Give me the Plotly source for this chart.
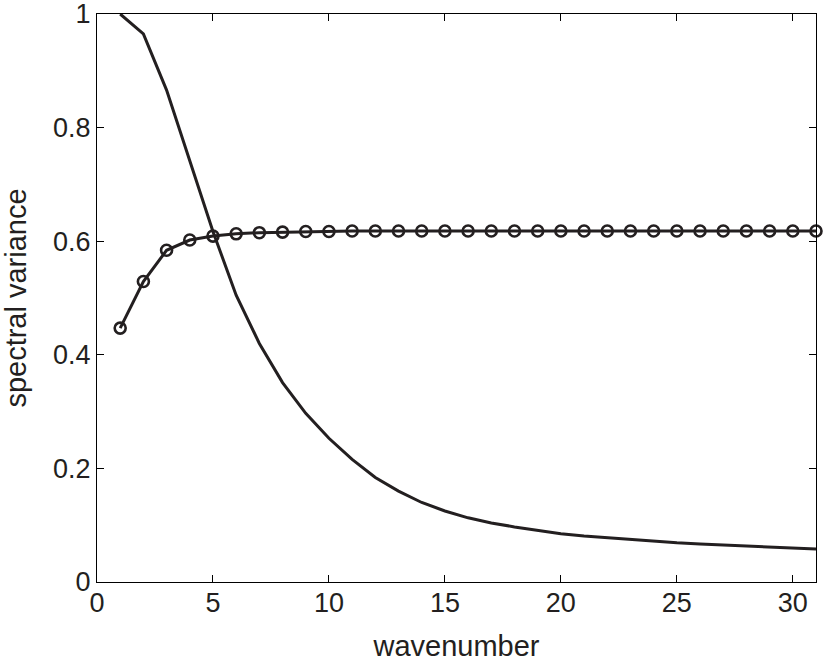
import plotly.graph_objects as go

# --- Data ---
wavenumber = list(range(1, 32))

# decaying curve (plain line)
decay = [1.000, 0.965, 0.866, 0.740, 0.617, 0.505, 0.420, 0.351, 0.297, 0.253,
         0.216, 0.184, 0.160, 0.140, 0.125, 0.113, 0.104, 0.097, 0.091, 0.085,
         0.081, 0.078, 0.074, 0.071, 0.069, 0.067, 0.065, 0.063, 0.061, 0.060,
         0.058]

# saturating curve (line with open circles)
saturating = [0.447, 0.529, 0.584, 0.602, 0.609, 0.613, 0.615, 0.616, 0.617, 0.617,
              0.618, 0.618, 0.618, 0.618, 0.618, 0.618, 0.618, 0.618, 0.618, 0.618,
              0.618, 0.618, 0.618, 0.618, 0.618, 0.618, 0.618, 0.618, 0.618, 0.618,
              0.618]

x_ticks = [0, 5, 10, 15, 20, 25, 30]
y_ticks = [0, 0.2, 0.4, 0.6, 0.8, 1]
y_labels = ["0", "0.2", "0.4", "0.6", "0.8", "1"]

ink = "#231f20"
font_family = "Liberation Sans, Arial, Helvetica, sans-serif"

fig = go.Figure()
fig.add_trace(go.Scatter(x=wavenumber, y=decay, mode="lines",
                         line=dict(color=ink, width=3),
                         cliponaxis=False, showlegend=False))
fig.add_trace(go.Scatter(x=wavenumber, y=saturating, mode="lines+markers",
                         line=dict(color=ink, width=3),
                         marker=dict(symbol="circle-open", size=11,
                                     color=ink, line=dict(width=2.6, color=ink)),
                         cliponaxis=False, showlegend=False))

axis_common = dict(showline=True, linecolor="black", linewidth=1,
                   mirror="ticks", ticks="inside", ticklen=7, tickwidth=1,
                   tickcolor="black", showgrid=False, zeroline=False,
                   automargin=False, ticklabeloverflow="allow",
                   tickfont=dict(size=27, color=ink, family=font_family))

fig.update_xaxes(range=[0, 31], tickvals=x_ticks,
                 title=dict(text="wavenumber", standoff=18,
                            font=dict(size=29, color=ink, family=font_family)),
                 ticklabelstandoff=-3,
                 **axis_common)
fig.update_yaxes(range=[0, 1], tickvals=y_ticks, ticktext=y_labels,
                 title=dict(text="spectral variance", standoff=17,
                            font=dict(size=29, color=ink, family=font_family)),
                 ticklabelstandoff=0,
                 **axis_common)

fig.update_layout(width=827, height=665,
                  margin=dict(l=97, r=11, t=14, b=83),
                  paper_bgcolor="white", plot_bgcolor="white",
                  font=dict(family=font_family, color=ink))

# page body has a default 8px margin; drop it so the figure sits at the corner
fig.write_html("out.html", config={"displayModeBar": False},
               post_script="document.body.style.margin='0px';")
